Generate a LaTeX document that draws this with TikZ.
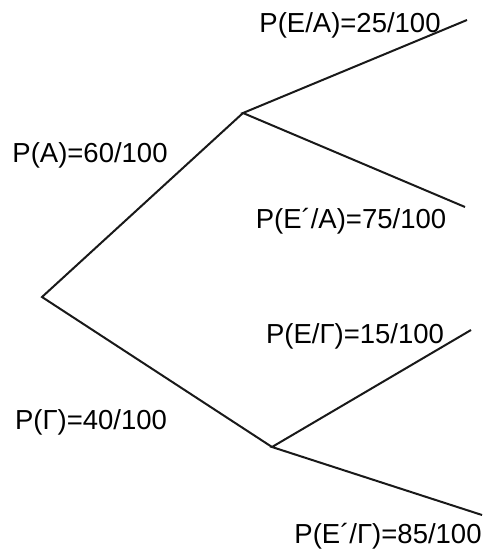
\documentclass[tikz,border=0pt]{standalone}
\usepackage{fontspec}
\setmainfont{Liberation Sans}
\usepackage{tikz}
\usetikzlibrary{calc}

\begin{document}
\begin{tikzpicture}[x=1pt,y=-1pt]
      \tikzset{branch/.style={line width=2pt, black!90},
          prob/.style={inner sep=0pt, font=\fontsize{27.5}{30}\selectfont}
      }
      \useasboundingbox (0,0) rectangle (487,553);
      \coordinate (root) at (42,297);
      \coordinate (A) at (243,113);
      \coordinate (G) at (272,447);
      \coordinate (AE) at (467,20);
      \coordinate (AEn) at (465,207);
      \coordinate (GE) at (471,330);
      \coordinate (GEn) at (482,515);

      \node [prob] (pA) at (90,155) {P(A)=60/100};
      \node [prob] (pG) at (91,422) {P(Γ)=40/100};
      \node [prob] (pEA) at (350,25) {P(E/A)=25/100};
      \node [prob] (pEnA) at (351,221) {P(E´/A)=75/100};
      \node [prob] (pEG) at (355,336) {P(E/Γ)=15/100};
      \node [prob] (pEnG) at (388,536) {P(E´/Γ)=85/100};

      \draw [branch] (AE) -- (A) -- (AEn);
      \draw [branch] (A) -- (root) -- (G);
      \draw [branch] (GE) -- (G) -- (GEn);
\end{tikzpicture}
\end{document}
